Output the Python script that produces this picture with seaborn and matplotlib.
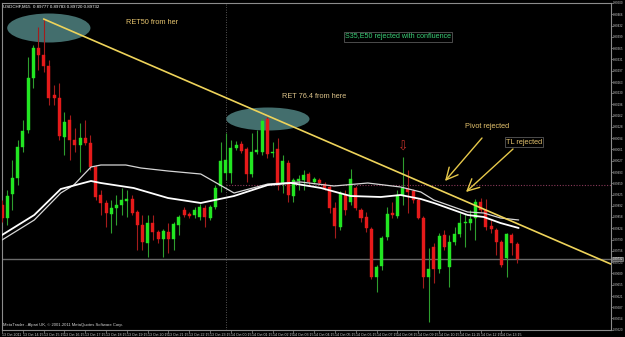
import matplotlib
matplotlib.use("Agg")
import numpy as np
import pandas as pd
import seaborn as sns
import matplotlib.pyplot as plt
from matplotlib.patches import Ellipse

# ---------------- data (USDCHF, M15) ----------------
opens = [0.89894, 0.89855, 0.89927, 0.89975, 0.90068, 0.90119, 0.90275, 0.90365, 0.90344, 0.90311,
         0.90224, 0.90215, 0.90098, 0.90149, 0.90089, 0.90074, 0.90095, 0.90080, 0.90008, 0.89924,
         0.89900, 0.89867, 0.89885, 0.89894, 0.89906, 0.89912, 0.89873, 0.89834, 0.89780, 0.89840,
         0.89813, 0.89792, 0.89813, 0.89792, 0.89834, 0.89879, 0.89867, 0.89864, 0.89858, 0.89885,
         0.89855, 0.89888, 0.89951, 0.89990, 0.89990, 0.90065, 0.90077, 0.90062, 0.89987, 0.90053,
         0.90053, 0.90152, 0.90050, 0.90062, 0.89960, 0.90020, 0.89921, 0.89966, 0.89969, 0.89987,
         0.89963, 0.89969, 0.89957, 0.89948, 0.89885, 0.89828, 0.89924, 0.89903, 0.89945, 0.89879,
         0.89858, 0.89822, 0.89678, 0.89711, 0.89798, 0.89870, 0.89861, 0.89924, 0.89942, 0.89936,
         0.89909, 0.89855, 0.89678, 0.89768, 0.89702, 0.89804, 0.89708, 0.89783, 0.89807, 0.89840,
         0.89840, 0.89855, 0.89903, 0.89879, 0.89831, 0.89819, 0.89783, 0.89735, 0.89804, 0.89777]
highs = [0.89909, 0.89939, 0.90029, 0.90089, 0.90149, 0.90338, 0.90374, 0.90428, 0.90452, 0.90329,
         0.90254, 0.90260, 0.90173, 0.90164, 0.90125, 0.90140, 0.90149, 0.90104, 0.90014, 0.89939,
         0.89909, 0.89909, 0.89924, 0.89945, 0.89939, 0.89924, 0.89879, 0.89864, 0.89864, 0.89864,
         0.89819, 0.89822, 0.89840, 0.89843, 0.89864, 0.89888, 0.89873, 0.89888, 0.89897, 0.89894,
         0.89894, 0.89954, 0.90083, 0.90110, 0.90089, 0.90086, 0.90086, 0.90068, 0.90110, 0.90119,
         0.90155, 0.90158, 0.90083, 0.90095, 0.90044, 0.90029, 0.89975, 0.89984, 0.89999, 0.89993,
         0.89978, 0.89975, 0.89963, 0.89954, 0.89903, 0.89936, 0.89939, 0.90002, 0.89951, 0.89885,
         0.89873, 0.89828, 0.89714, 0.89801, 0.89888, 0.89903, 0.89939, 0.90038, 0.89999, 0.89942,
         0.89915, 0.89861, 0.89765, 0.89780, 0.89810, 0.89819, 0.89804, 0.89828, 0.89870, 0.89867,
         0.89879, 0.89912, 0.89915, 0.89912, 0.89849, 0.89825, 0.89789, 0.89810, 0.89810, 0.89783]
lows = [0.89843, 0.89834, 0.89879, 0.89954, 0.90053, 0.90110, 0.90245, 0.90299, 0.90293, 0.90194,
        0.90194, 0.90089, 0.90044, 0.90029, 0.90053, 0.89993, 0.90074, 0.89999, 0.89909, 0.89864,
        0.89828, 0.89810, 0.89834, 0.89864, 0.89858, 0.89864, 0.89759, 0.89759, 0.89738, 0.89789,
        0.89780, 0.89738, 0.89750, 0.89759, 0.89804, 0.89858, 0.89855, 0.89855, 0.89849, 0.89828,
        0.89849, 0.89882, 0.89933, 0.89969, 0.89960, 0.90059, 0.90050, 0.89963, 0.89978, 0.90047,
        0.90044, 0.90035, 0.90038, 0.89939, 0.89930, 0.89903, 0.89903, 0.89939, 0.89939, 0.89951,
        0.89957, 0.89954, 0.89939, 0.89870, 0.89795, 0.89819, 0.89864, 0.89894, 0.89879, 0.89843,
        0.89813, 0.89672, 0.89633, 0.89699, 0.89789, 0.89855, 0.89855, 0.89894, 0.89870, 0.89900,
        0.89852, 0.89645, 0.89543, 0.89660, 0.89690, 0.89759, 0.89648, 0.89774, 0.89798, 0.89768,
        0.89819, 0.89789, 0.89873, 0.89819, 0.89810, 0.89744, 0.89708, 0.89678, 0.89744, 0.89720]
closes = [0.89855, 0.89921, 0.89975, 0.90068, 0.90116, 0.90275, 0.90365, 0.90344, 0.90311, 0.90215,
          0.90215, 0.90101, 0.90143, 0.90089, 0.90074, 0.90095, 0.90080, 0.90008, 0.89918, 0.89900,
          0.89870, 0.89885, 0.89894, 0.89909, 0.89912, 0.89870, 0.89834, 0.89783, 0.89840, 0.89813,
          0.89792, 0.89816, 0.89792, 0.89837, 0.89858, 0.89864, 0.89861, 0.89879, 0.89888, 0.89858,
          0.89888, 0.89945, 0.90026, 0.90029, 0.90065, 0.90074, 0.90056, 0.89987, 0.90053, 0.90059,
          0.90146, 0.90047, 0.90053, 0.89960, 0.90026, 0.89924, 0.89969, 0.89972, 0.89984, 0.89963,
          0.89972, 0.89960, 0.89945, 0.89885, 0.89831, 0.89930, 0.89879, 0.89972, 0.89885, 0.89855,
          0.89825, 0.89678, 0.89708, 0.89795, 0.89867, 0.89864, 0.89924, 0.89945, 0.89933, 0.89909,
          0.89855, 0.89678, 0.89702, 0.89702, 0.89801, 0.89768, 0.89783, 0.89807, 0.89840, 0.89843,
          0.89852, 0.89903, 0.89879, 0.89828, 0.89822, 0.89783, 0.89714, 0.89807, 0.89780, 0.89732]

# moving averages (SMA35 / EMA50) read at sample bars
ma1_bar = [0, 6.2, 11.3, 17.1, 19, 25.3, 31.9, 38.2, 44.6, 51.1, 55.5, 61.3, 67, 72.8, 76.6,
           80.5, 83, 89.5, 92.6, 95.8, 99.3]
ma1_val = [0.89804, 0.89864, 0.89942, 0.89966, 0.89960, 0.89945, 0.89915, 0.89900, 0.89921, 0.89954,
           0.89960, 0.89945, 0.89921, 0.89918, 0.89924, 0.89912, 0.89900, 0.89864, 0.89858, 0.89840,
           0.89825]
ma2_bar = [0, 6.2, 11.3, 13.8, 17.1, 19, 23.8, 26.7, 31.9, 38.2, 44.6, 51.1, 57.4, 63.8, 70.3,
           76.6, 80.5, 83, 89.5, 92.6, 95.8, 99.3]
ma2_val = [0.89789, 0.89849, 0.89930, 0.89954, 0.90008, 0.90014, 0.90014, 0.90005, 0.89996, 0.89987,
           0.89930, 0.89957, 0.89963, 0.89951, 0.89960, 0.89948, 0.89933, 0.89909, 0.89873, 0.89870,
           0.89855, 0.89849]

trend_bar = [8, 117]
trend_val = [0.90452, 0.89717]
pivot_level = 0.89954
day_sep_bar = 43

time_labels = ["13 Oct 2011", "13 Oct 14:15", "13 Oct 15:15", "13 Oct 16:15", "13 Oct 17:15",
               "13 Oct 18:15", "13 Oct 19:15", "13 Oct 20:15", "13 Oct 21:15", "13 Oct 22:15",
               "13 Oct 23:15", "14 Oct 00:15", "14 Oct 01:15", "14 Oct 02:15", "14 Oct 03:15",
               "14 Oct 04:15", "14 Oct 05:15", "14 Oct 06:15", "14 Oct 07:15", "14 Oct 08:15",
               "14 Oct 09:15", "14 Oct 10:15", "14 Oct 11:15", "14 Oct 12:15", "14 Oct 13:15"]
time_label_bars = [0, 4, 8, 12, 16, 20, 24, 28, 32, 36, 40, 44, 48, 52, 56, 60, 64, 68, 72, 76,
                   80, 84, 88, 92, 96]
price_ticks = [0.90500, 0.90466, 0.90432, 0.90399, 0.90365, 0.90331, 0.90297, 0.90263, 0.90230,
               0.90196, 0.90162, 0.90128, 0.90094, 0.90061, 0.90027, 0.89993, 0.89959, 0.89925,
               0.89892, 0.89858, 0.89824, 0.89790, 0.89756, 0.89723, 0.89689, 0.89655, 0.89621,
               0.89587, 0.89554, 0.89520]

# ---------------- style ----------------
sns.set_theme(style="dark")
plt.rcParams["font.family"] = ["Liberation Sans", "DejaVu Sans"]
plt.rcParams["axes.facecolor"] = "black"
plt.rcParams["figure.facecolor"] = "black"

W, H = 625, 337
fig = plt.figure(figsize=(W / 100, H / 100), dpi=100, facecolor="black")
ax = fig.add_axes([2 / W, 7 / H, 609 / W, 327 / H])
ax.set_facecolor("black")
ax.set_xlim(0.096, 117.05)
ax.set_ylim(0.89519, 0.90500)

o = np.array(opens); h = np.array(highs); l = np.array(lows); c = np.array(closes)
idx = np.arange(len(o))
up = c >= o

# ellipses behind everything
ax.add_patch(Ellipse((9.0, 0.90425), 16.0, 0.00087, facecolor="#436e6d", edgecolor="none", zorder=1))
ax.add_patch(Ellipse((51.1, 0.90152), 16.0, 0.00069, facecolor="#436e6d", edgecolor="none", zorder=1))

# day separator + pivot + bid line
ax.axvline(day_sep_bar, color="#6e6e6e", lw=0.6, ls=(0, (1, 2)), zorder=1.5)
ax.hlines(pivot_level, day_sep_bar, 117.05, colors="#8a3a5a", lw=0.8, linestyles=(0, (1, 1.5)), zorder=1.5)
ax.axhline(c[-1], color="#6a6a6a", lw=1.0, zorder=1.5)

# candles
wick_col = np.where(up, "#2e9e2e", "#a41c1c")
body_col = np.where(up, "#22e622", "#e51a1a")
ax.vlines(idx, l, h, colors=wick_col, lw=0.8, zorder=3)
ax.bar(idx, np.maximum(np.abs(c - o), 0.00002), bottom=np.minimum(o, c), width=0.58,
       color=body_col, edgecolor=body_col, lw=0.3, zorder=4)

# moving averages
df1 = pd.DataFrame({"bar": ma1_bar, "price": ma1_val})
df2 = pd.DataFrame({"bar": ma2_bar, "price": ma2_val})
sns.lineplot(data=df2, x="bar", y="price", ax=ax, color="#d6d6d6", lw=0.9, sort=False, legend=False, zorder=5)
sns.lineplot(data=df1, x="bar", y="price", ax=ax, color="#ffffff", lw=1.3, sort=False, legend=False, zorder=5)

# trend line
dft = pd.DataFrame({"bar": trend_bar, "price": trend_val})
sns.lineplot(data=dft, x="bar", y="price", ax=ax, color="#eed35a", lw=1.2, sort=False, legend=False, zorder=6)

# axes decoration
for s in ax.spines.values():
    s.set_color("#8c8c8c"); s.set_linewidth(0.8); s.set_visible(True)
ax.yaxis.tick_right()
ax.set_yticks(price_ticks)
ax.set_yticklabels([f"{v:.5f}" for v in price_ticks])
ax.set_xticks(time_label_bars)
ax.set_xticklabels(time_labels, ha="left")
ax.tick_params(axis="y", colors="#8c8c8c", labelcolor="#cfcfcf", labelsize=2.1, length=1.2, width=0.5, pad=0.4,
               right=True, left=False)
ax.tick_params(axis="x", colors="#8c8c8c", labelcolor="#cfcfcf", labelsize=2.6, length=2, width=0.5, pad=0.5,
               bottom=True)
ax.set_xlabel(""); ax.set_ylabel("")
ax.grid(False)

# bid price label
ax.text(1.0025, c[-1], f"{c[-1]:.5f}", transform=ax.get_yaxis_transform(), fontsize=2.1, color="white",
        va="center", ha="left", bbox=dict(boxstyle="square,pad=0.15", fc="#505050", ec="#a0a0a0", lw=0.4),
        zorder=10, clip_on=False)

def ftxt(x, y, s, **kw):
    fig.text(x / W, 1 - y / H, s, va="center", ha="left", **kw)

ftxt(3, 7, f"USDCHF,M15  {o[-1]:.5f} {h[-1]:.5f} {l[-1]:.5f} {c[-1]:.5f}", fontsize=3.2, color="white")
ftxt(3, 325, "MetaTrader - Alpari UK, \u00a9 2001-2011 MetaQuotes Software Corp.", fontsize=3.0, color="#d8d8d8")

gold = "#e6c46e"
ftxt(126, 23, "RET50 from her", fontsize=5.3, color=gold)
ftxt(282, 96, "RET 76.4 from here", fontsize=5.3, color="#dcc38a")
ftxt(345, 37, "S35,E50 rejected with confluence", fontsize=5.1, color="#3ccf78",
     bbox=dict(boxstyle="square,pad=0.15", fc="none", ec="#6a6a6a", lw=0.5))
ftxt(465, 127, "Pivot rejected", fontsize=5.3, color=gold)
ftxt(506, 142, "TL rejected", fontsize=5.3, color=gold,
     bbox=dict(boxstyle="square,pad=0.15", fc="none", ec="#6a6a6a", lw=0.5))
fig.text(403 / W, 1 - 147.5 / H, "\u21e9", fontsize=9, color="#c0302a", ha="center", va="center",
         family=["DejaVu Sans"])

for (x0, y0, x1, y1) in [(482, 138, 445, 181), (513, 149, 466, 192)]:
    ax.annotate("", xy=(x1, H - y1), xytext=(x0, H - y0), xycoords="figure pixels",
                textcoords="figure pixels",
                arrowprops=dict(arrowstyle="->,head_length=0.7,head_width=0.35", color="#e6c84a",
                                lw=1.0, shrinkA=0, shrinkB=0, mutation_scale=12))

fig.savefig("out.png", dpi=100, facecolor="black")
